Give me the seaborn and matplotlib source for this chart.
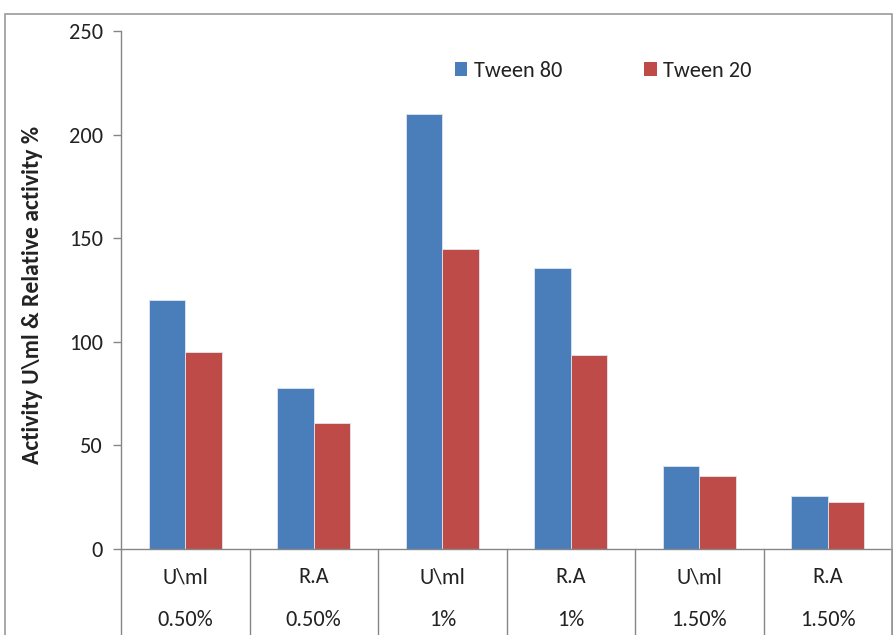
import matplotlib
matplotlib.use("Agg")
import matplotlib.pyplot as plt
import matplotlib.transforms as mtransforms
from matplotlib.patches import Rectangle, Patch
import seaborn as sns
import pandas as pd

# Data
measures = ["U\\ml", "R.A", "U\\ml", "R.A", "U\\ml", "R.A"]
concentrations = ["0.50%", "0.50%", "1%", "1%", "1.50%", "1.50%"]
tween80 = [120, 77.5, 210, 135.5, 40, 25.5]
tween20 = [95, 61, 145, 93.5, 35, 22.5]
series = ["Tween 80", "Tween 20"]
colors = ["#4A7EBB", "#BE4B48"]
yticks = [0, 50, 100, 150, 200, 250]

sns.set_style("white")
plt.rcParams["font.family"] = ["Carlito", "DejaVu Sans"]
FS = 16
TXT = "#222222"

keys = [f"{m}|{c}|{i}" for i, (m, c) in enumerate(zip(measures, concentrations))]
df = pd.DataFrame({
    "key": keys * 2,
    "value": tween80 + tween20,
    "series": [series[0]] * len(keys) + [series[1]] * len(keys),
})

W, H = 893, 635
fig = plt.figure(figsize=(W / 100, H / 100), dpi=100)
x0, x1, y0, y1 = 121, 892, 549, 31
ax = fig.add_axes([x0 / W, 1 - y0 / H, (x1 - x0) / W, (y0 - y1) / H])

sns.barplot(data=df, x="key", y="value", hue="series", order=keys,
            hue_order=series, palette=colors, width=0.57, ax=ax,
            edgecolor="#dfe6ef", linewidth=0.6, legend=False, saturation=1)

ax.set_ylim(0, 250)
ax.set_xlim(-0.5, len(keys) - 0.5)
ax.set_yticks(yticks)
ax.set_xticks([])
ax.set_xlabel("")
ax.set_ylabel("Activity U\\ml & Relative activity %", fontsize=17,
              fontweight="bold", color=TXT, va="center")
ax.yaxis.set_label_coords((33 - x0) / (x1 - x0), (y0 - 295) / (y0 - y1))
ax.tick_params(axis="y", length=6, width=1, color="#868686", direction="out",
               labelsize=FS, labelcolor=TXT, pad=7, left=True)
for s in ["top", "right"]:
    ax.spines[s].set_visible(False)
for s in ["left", "bottom"]:
    ax.spines[s].set_color("#868686")
    ax.spines[s].set_linewidth(1)

# category table below the axis
trans = mtransforms.blended_transform_factory(ax.transData, ax.transAxes)
span = y0 - y1
depth = (H - y0 + 5) / span
for i in range(len(keys) + 1):
    ax.plot([i - 0.5, i - 0.5], [0, -depth], transform=trans, color="#868686",
            lw=1, clip_on=False)
for i, (m, c) in enumerate(zip(measures, concentrations)):
    ax.text(i, -28 / span, m, transform=trans, ha="center", va="center",
            fontsize=FS, color=TXT)
    ax.text(i, -71 / span, c, transform=trans, ha="center", va="center",
            fontsize=FS, color=TXT)

handles = [Patch(facecolor=c, edgecolor="none") for c in colors]
fig.legend(handles, series, loc="center left",
           bbox_to_anchor=(455 / W, 1 - 71 / H), ncol=2, frameon=False,
           fontsize=16, handlelength=0.55, handleheight=0.55,
           handletextpad=0.3, columnspacing=3.7, borderpad=0,
           borderaxespad=0, labelcolor=TXT)

# chart-area border
fig.patches.append(Rectangle((5 / W, -0.05), (W - 6) / W, 1 - 14 / H + 0.05,
                             transform=fig.transFigure, fill=False,
                             edgecolor="#9a9a9a", lw=1.2))

fig.savefig("out.png", dpi=100)
